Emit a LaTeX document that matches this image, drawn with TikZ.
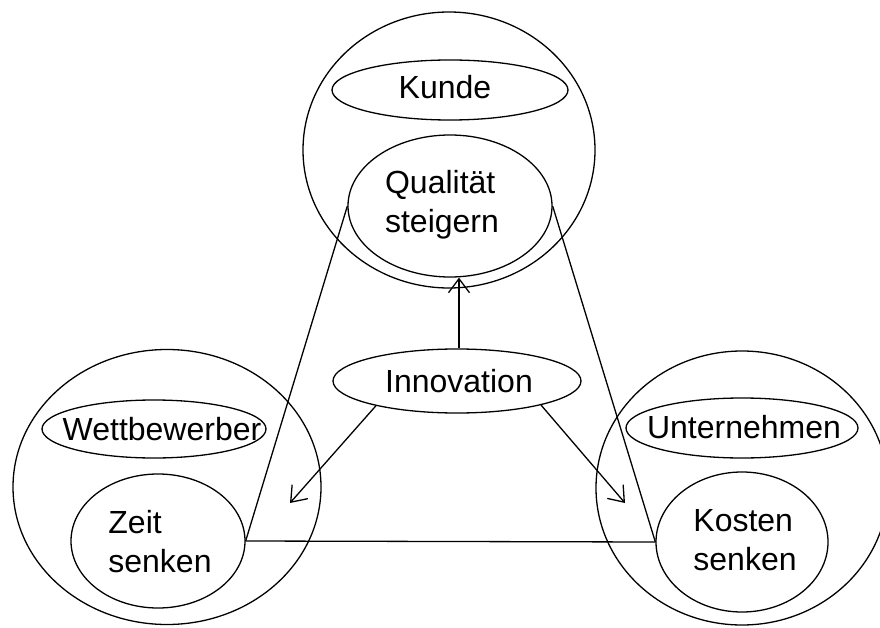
\documentclass[tikz,border=0pt]{standalone}
\usepackage{fontspec}
\setmainfont{Liberation Sans}
\usetikzlibrary{shapes.geometric,arrows.meta}
\tikzset{
  oval/.style={draw, ellipse, inner sep=0pt, line width=1.3pt},
  lbl/.style={font=\fontsize{32}{39}\selectfont, align=left, inner sep=0pt},
  conn/.style={line width=1.3pt},
  arr/.style={line width=1.3pt, -{Straight Barb[length=14pt,width=21pt,line width=1.3pt]}}
}
\begin{document}
\begin{tikzpicture}[x=1pt,y=-1pt]
\useasboundingbox (0,0) rectangle (880,628);
\clip (0,0) rectangle (880,628);
% big circles
\node[oval, minimum width=292pt, minimum height=276pt] (bigK) at (449,150) {};
\node[oval, minimum width=308pt, minimum height=275pt] (bigW) at (167,487) {};
\node[oval, minimum width=292pt, minimum height=274pt] (bigU) at (742,488) {};
% inner ovals
\node[oval, minimum width=236pt, minimum height=60pt] (kunde) at (450,90) {};
\node[oval, minimum width=204pt, minimum height=142pt] (q) at (450,206) {};
\node[oval, minimum width=248pt, minimum height=64pt] (inn) at (457,381) {};
\node[oval, minimum width=224pt, minimum height=58pt] (wett) at (154,429) {};
\node[oval, minimum width=174pt, minimum height=134pt] (z) at (158,541) {};
\node[oval, minimum width=232pt, minimum height=60pt] (unt) at (742,428) {};
\node[oval, minimum width=172pt, minimum height=140pt] (k) at (742,542) {};
% texts
\node[lbl] (tKunde) at (445,87) {Kunde};
\node[lbl] (tQ) at (442,205) {Qualität\\steigern};
\node[lbl] (tInn) at (459,381) {Innovation};
\node[lbl] (tWett) at (162,429) {Wettbewerber};
\node[lbl] (tZ) at (160,542) {Zeit\\senken};
\node[lbl] (tUnt) at (744,427) {Unternehmen};
\node[lbl] (tK) at (745,540) {Kosten\\senken};
% triangle
\draw[conn] (q.west) -- (z.east);
\draw[conn] (q.east) -- (k.west);
\draw[conn] (z.east) -- (k.west);
% arrows
\coordinate (aL) at (290,503);
\coordinate (aR) at (625,503);
\draw[arr] (inn.north -| 459,0) -- (459,0 |- q.south);
\draw[arr] (inn.197) -- (aL);
\draw[arr] (inn.-16) -- (aR);
\end{tikzpicture}
\end{document}
